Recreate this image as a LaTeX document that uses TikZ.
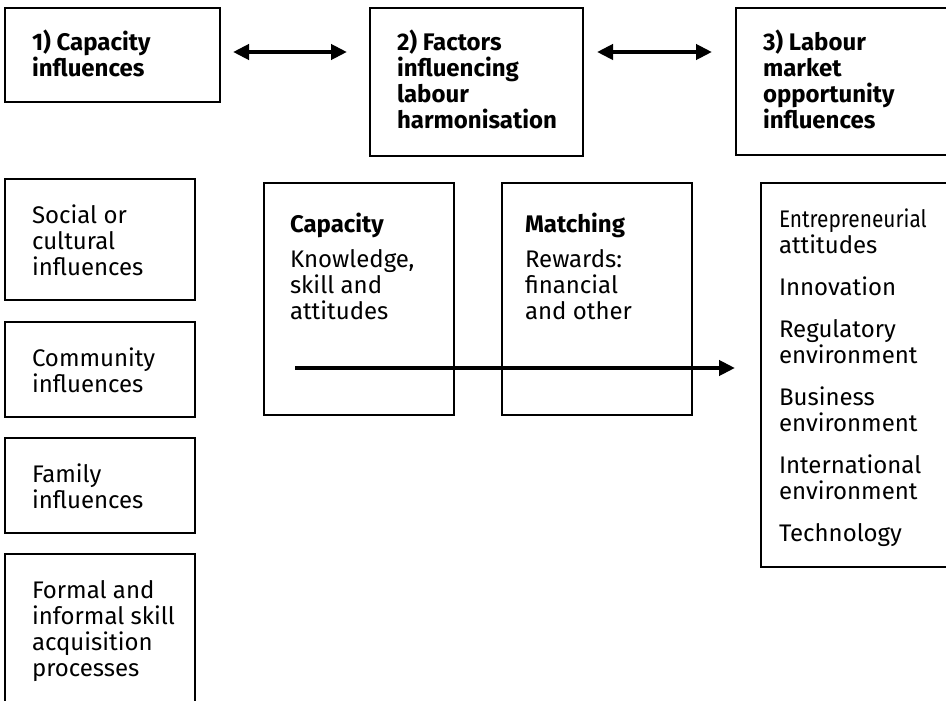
\documentclass[tikz,border=0pt]{standalone}
\usepackage{fontspec}
\setmainfont{Fira Sans}
\usepackage{graphicx}
\usetikzlibrary{arrows.meta}
\newcommand{\tstrut}{\rule{0pt}{20pt}}
\tikzset{
  box/.style={draw,line width=2.5pt,inner sep=0pt,outer sep=0pt,anchor=north west},
  txt/.style={anchor=north west,inner sep=0pt,outer sep=0pt,align=left,font=\fontsize{24}{26}\selectfont},
  arrw/.style={line width=4pt}
}
\begin{document}
\begin{tikzpicture}[x=1pt,y=-1pt,>={Triangle[length=16pt,width=15pt]}]
    \useasboundingbox (0,0) rectangle (946,701);
    \node[box,minimum width=215pt,minimum height=94pt] (infl) at (5,8) {};
    \node[box,minimum width=213pt,minimum height=148pt] (fact) at (370,8) {};
    \node[box,minimum width=240pt,minimum height=147pt] (lmo) at (736,8) {};
    \node[txt] (infltxt) at ([shift={(27,22)}]infl.north west) {\bfseries\tstrut 1) Capacity\\\bfseries influences};
    \node[txt] (facttxt) at ([shift={(27,22)}]fact.north west) {\bfseries\tstrut 2) Factors\\\bfseries influencing\\\bfseries labour\\\bfseries harmonisation};
    \node[txt] (lmotxt) at ([shift={(27,22)}]lmo.north west) {\bfseries\tstrut 3) Labour\\\bfseries market\\\bfseries opportunity\\\bfseries influences};
    \draw[arrw,<->] ([shift={(13,44)}]infl.north east) -- ([shift={(-23,44)}]fact.north west);
    \draw[arrw,<->] ([shift={(14,44)}]fact.north east) -- ([shift={(-24,44)}]lmo.north west);
    \node[box,minimum width=190pt,minimum height=121pt] (soc) at (5,179) {};
    \node[box,minimum width=190pt,minimum height=95pt] (comm) at (5,322) {};
    \node[box,minimum width=190pt,minimum height=95pt] (fam) at (5,438) {};
    \node[box,minimum width=190pt,minimum height=180pt] (form) at (5,554) {};
    \node[txt] (soctxt) at ([shift={(27,24)}]soc.north west) {\tstrut Social or\\cultural\\influences};
    \node[txt] (commtxt) at ([shift={(27,24)}]comm.north west) {\tstrut Community\\influences};
    \node[txt] (famtxt) at ([shift={(27,24)}]fam.north west) {\tstrut Family\\influences};
    \node[txt] (formtxt) at ([shift={(27,24)}]form.north west) {\tstrut Formal and\\informal skill\\acquisition\\processes};
    \node[box,minimum width=190pt,minimum height=232pt] (capb) at (264,183) {};
    \node[box,minimum width=190pt,minimum height=232pt] (match) at (502,183) {};
    \node[txt] (captxt) at ([shift={(26,29)}]capb.north west) {\bfseries\tstrut Capacity\\[9pt]Knowledge,\\skill and\\attitudes};
    \node[txt] (matchtxt) at ([shift={(23,29)}]match.north west) {\bfseries\tstrut Matching\\[9pt]Rewards:\\financial\\and other};
    \node[box,minimum width=220pt,minimum height=384pt] (envb) at (761,183) {};
    \node[txt] (envtxt) at ([shift={(18,24)}]envb.north west) {\tstrut\scalebox{0.87}[1]{Entrepreneurial}\\attitudes\\[16pt]Innovation\\[16pt]Regulatory\\environment\\[16pt]Business\\environment\\[16pt]International\\environment\\[16pt]Technology};
    \draw[arrw,->] ([shift={(31,185)}]capb.north west) -- ([shift={(-26,185)}]envb.north west);
\end{tikzpicture}
\end{document}
